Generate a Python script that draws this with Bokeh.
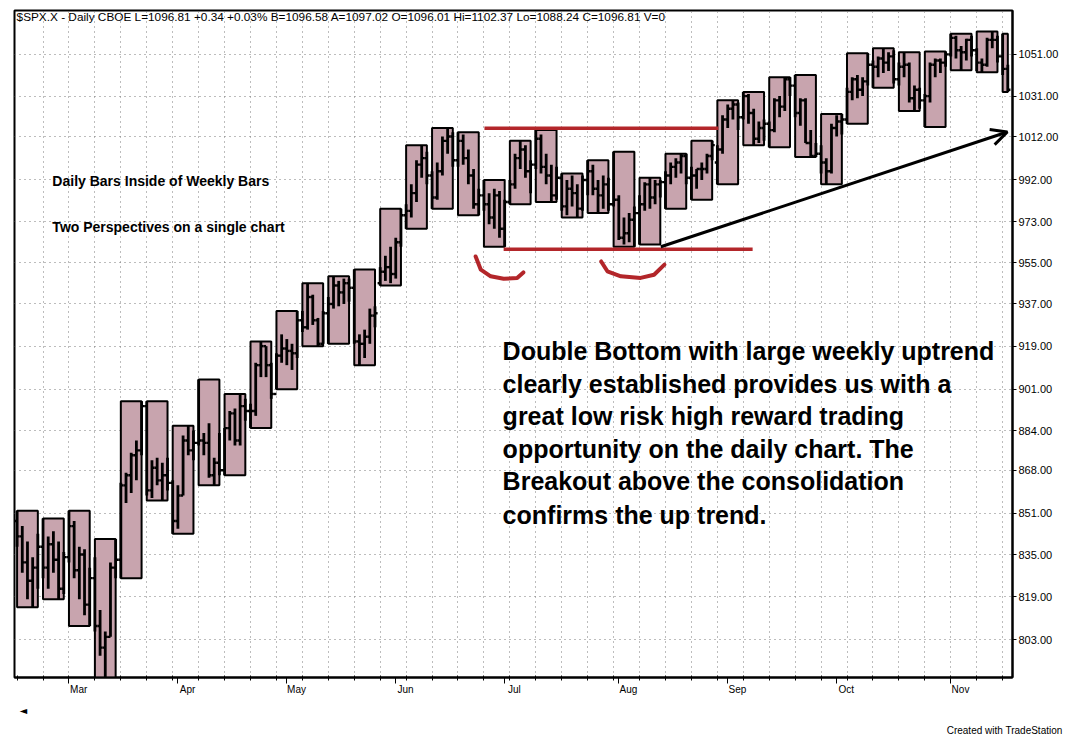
from bokeh.plotting import figure
from bokeh.models import (Range1d, FixedTicker, NumeralTickFormatter, Label, Arrow, OpenHead, Title)
from bokeh.embed import file_html
from bokeh.resources import INLINE

FONT = "Liberation Sans"

# ---------------- data (daily bars, 5 trading days per week) ----------------
d_open = [
    848, 842, 832, 825, 830,   838, 830, 839, 833, 822,   834, 846, 829, 835, 816,
    826, 808, 800, 804, 830,   833, 862, 866, 874, 876,   894, 860, 869, 864, 866,
    863, 848, 858, 880, 876,   879, 880, 879, 866, 871,   868, 885, 891, 880, 894,
    892, 892, 911, 919, 911,   899, 915, 918, 917, 916,   930, 927, 940, 930, 920,
    933, 937, 945, 942, 946,   944, 921, 920, 923, 932,   946, 951, 953, 950, 964,
    976, 978, 986, 999, 1002,  994, 984, 996, 1010, 1012, 1001, 1010, 1002, 994, 981,
    985, 981, 975, 985, 970,   982, 990, 1002, 1006, 996,  999, 1011, 998, 994, 985,
    993, 980, 988, 986, 979,   992, 996, 988, 985, 990,   981, 983, 966, 968, 974,
    977, 981, 990, 984, 990,   991, 994, 998, 1000, 1003, 993, 994, 997, 997, 1003,
    1000, 1006, 1020, 1025, 1027, 1021, 1031, 1023, 1011, 1016, 1018, 1015, 1029, 1026, 1039,
    1036, 1023, 1029, 1009, 1003, 1004, 1000, 996, 1016, 1019, 1020, 1033, 1039, 1034, 1038,
    1046, 1045, 1049, 1047, 1050, 1039, 1045, 1046, 1030, 1034, 1029, 1031, 1046, 1048, 1047,
    1051, 1059, 1053, 1052, 1058, 1053, 1047, 1046, 1058, 1058, 1050, 1044,
]
d_high = [
    852, 846, 840, 834, 843,   849, 842, 844, 840, 836,   852, 848, 838, 837, 830,
    834, 814, 806, 832, 841,   863, 867, 875, 880, 896,   896, 872, 873, 871, 873,
    864, 862, 882, 886, 884,   905, 883, 887, 873, 883,   885, 892, 893, 899, 897,
    895, 912, 921, 919, 912,   916, 924, 922, 920, 934,   934, 946, 941, 931, 934,
    940, 949, 947, 948, 948,   952, 924, 926, 935, 936,   953, 958, 962, 966, 979,
    981, 990, 1001, 1008, 1005, 996, 1000, 1012, 1016, 1014, 1014, 1013, 1006, 997, 988,
    992, 986, 988, 987, 983,   992, 1004, 1010, 1008, 1001, 1015, 1013, 1004, 999, 998,
    995, 992, 994, 990, 994,   1001, 999, 992, 994, 993,  1005, 985, 975, 977, 980,
    985, 991, 993, 992, 992,   996, 1000, 1002, 1004, 1004, 998, 997, 1000, 1004, 1010,
    1008, 1022, 1027, 1029, 1028, 1033, 1032, 1025, 1019, 1020, 1019, 1030, 1031, 1040, 1040,
    1041, 1030, 1030, 1015, 1009, 1008, 1002, 1018, 1022, 1022.5, 1035, 1040, 1041, 1040, 1051.5,
    1048, 1050, 1054, 1052, 1053, 1047, 1052, 1047, 1036, 1035, 1032, 1047, 1049, 1049, 1052.4,
    1061, 1060, 1055, 1058.5, 1060, 1054, 1049, 1059, 1062.1, 1060, 1061, 1046,
]
d_low = [
    838, 828, 818, 815, 822,   826, 822, 828, 818, 820,   832, 826, 818, 812, 808,
    806, 797, 789, 804, 826,   826, 855, 859, 864, 874,   858, 857, 862, 856, 860,
    843, 845, 858, 874, 872,   878, 874, 865, 862, 866,   866, 880, 878, 878, 888,
    885, 890, 906, 906, 897,   901, 912, 911, 909, 914,   925, 926, 928, 919, 920,
    920, 935, 936, 937, 938,   920, 911, 914, 920, 927,   945, 947, 946, 948, 962,
    970, 975, 982, 993, 990,   979, 983, 994, 1004, 998,  998, 999, 990, 979, 976,
    978, 972, 970, 966, 962,   981, 988, 997, 993, 986,   997, 995, 990, 982, 983,
    978, 976, 980, 975, 978,   985, 985, 977, 979, 978,   980, 965, 963, 964, 962,
    963, 978, 979, 981, 984,   979, 990, 993, 995, 990,   983, 988, 992, 995, 1001,
    990, 1004, 1016, 1020, 1015, 1020, 1018, 1008, 1009, 1010, 1007, 1014, 1021, 1024, 1031,
    1021, 1017, 1009, 1003, 1002.5, 995, 990, 995, 1012, 1013, 1018, 1029, 1030, 1031, 1036,
    1035, 1040, 1042, 1043, 1037, 1036, 1040, 1028, 1024, 1025, 1016.4, 1028, 1040, 1042, 1045,
    1050, 1049, 1043.3, 1048, 1050, 1043, 1042.4, 1045, 1054, 1047, 1041, 1033,
]
d_close = [
    842, 832, 825, 830, 838,   830, 839, 833, 822, 834,   846, 829, 835, 816, 826,
    808, 800, 804, 830, 833,   862, 866, 874, 876, 894,   860, 869, 864, 866, 863,
    848, 858, 880, 876, 879,   880, 879, 866, 871, 868,   885, 891, 880, 894, 892,
    892, 911, 919, 911, 899,   915, 918, 917, 916, 930,   927, 940, 930, 920, 933,
    937, 945, 942, 946, 944,   921, 920, 923, 932, 933,   951, 953, 950, 964, 976,
    978, 986, 999, 1002, 994,  984, 996, 1010, 1012, 1001, 1010, 1002, 994, 981, 985,
    981, 975, 985, 970, 982,   990, 1002, 1006, 996, 999,  1011, 998, 994, 985, 993,
    980, 988, 986, 979, 992,   996, 988, 985, 990, 981,   983, 966, 968, 974, 977,
    981, 990, 984, 990, 991,   994, 998, 1000, 1003, 993, 994, 997, 997, 1003, 1008,
    1006, 1020, 1025, 1027, 1021, 1031, 1023, 1011, 1016, 1018, 1015, 1029, 1026, 1039, 1036,
    1023, 1029, 1009, 1003, 1004, 1000, 996, 1016, 1019, 1020, 1033, 1039, 1034, 1038, 1046,
    1045, 1049, 1047, 1050, 1039, 1045, 1046, 1030, 1034, 1029, 1031, 1046, 1048, 1047, 1051,
    1059, 1053, 1052, 1058, 1053, 1047, 1046, 1058, 1058, 1050, 1044, 1034,
]

price_ticks = [803, 819, 835, 851, 868, 884, 901, 919, 937, 955, 973, 992, 1012, 1031, 1051]
month_names = ["Mar", "Apr", "May", "Jun", "Jul", "Aug", "Sep", "Oct", "Nov"]
month_pos = [10, 31, 52, 73, 94, 116, 137, 158, 180]

header_text = ("$SPX.X - Daily  CBOE L=1096.81 +0.34 +0.03% B=1096.58 A=1097.02 "
               "O=1096.01 Hi=1102.37 Lo=1088.24 C=1096.81 V=0")
credit_text = "Created with TradeStation"
note_left = ["Daily Bars Inside of Weekly Bars", "Two Perspectives on a single chart"]
note_left_y = [991.5, 970.9]
note_big = ["Double Bottom with large weekly uptrend",
            "clearly established provides us with a",
            "great low risk high reward trading",
            "opportunity on the daily chart. The",
            "Breakout above the consolidation",
            "confirms the up trend."]
note_big_y = [916.8, 903.0, 889.9, 876.5, 863.7, 850.4]

# hand-drawn annotations, in (trading-day index, price)
resist_x, resist_y = [90.1, 135.2], [1015.9, 1015.9]
support_x, support_y = [93.8, 141.8], [960.9, 960.9]
arc1_x = [88.4, 89.4, 91.3, 93.8, 96.4, 97.6]
arc1_y = [957.7, 951.9, 949.0, 947.9, 948.3, 950.7]
arc2_x = [112.6, 113.8, 116.4, 120.2, 122.8, 124.8]
arc2_y = [955.5, 951.2, 949.0, 948.3, 949.7, 954.1]
arrow_x, arrow_y = [124.1, 190.9], [962.0, 1014.1]

# ---------------- weekly boxes from the daily bars ----------------
n = len(d_open)
idx = list(range(n))
wl, wr, wt, wb = [], [], [], []
for s in range(0, n, 5):
    e = min(s + 5, n)
    wl.append(s)
    wr.append(e - 1)
    wt.append(max(d_high[s:e]))
    wb.append(min(d_low[s:e]))

RED = "#b3262a"
BOX = "#c8a4ae"
NB = "\u00a0"

p = figure(width=1073, height=738, y_axis_type="log",
           x_range=Range1d(-0.5, 191.9), y_range=Range1d(789.1, 1072.4),
           y_axis_location="right", output_backend="svg", toolbar_location=None,
           min_border_left=14, min_border_right=61, min_border_top=10, min_border_bottom=59)
p.background_fill_color = "white"
p.border_fill_color = "white"
p.outline_line_color = "black"
p.outline_line_width = 2

yax = p.yaxis[0]
yax.ticker = FixedTicker(ticks=price_ticks, minor_ticks=[])
yax.formatter = NumeralTickFormatter(format="0.00")
yax.axis_line_width = 2
yax.axis_line_color = "black"
yax.major_tick_out = 4
yax.major_tick_in = 0
yax.major_tick_line_color = "black"
yax.minor_tick_out = 0
yax.minor_tick_in = 0
yax.major_label_standoff = 2
yax.major_label_text_font = FONT
yax.major_label_text_font_size = "11px"
yax.major_label_text_color = "black"

xax = p.xaxis[0]
xax.ticker = FixedTicker(ticks=month_pos, minor_ticks=list(range(0, n, 5)))
# month names start at their tick, as in TradeStation
xax.major_label_overrides = {m: NB * 7 + name for m, name in zip(month_pos, month_names)}
xax.major_label_text_font = FONT
xax.major_label_text_font_size = "10px"
xax.major_label_text_color = "black"
xax.major_label_standoff = 0
xax.axis_line_width = 2
xax.axis_line_color = "black"
xax.major_tick_out = 6
xax.major_tick_in = 0
xax.major_tick_line_color = "black"
xax.minor_tick_out = 3
xax.minor_tick_in = 2
xax.minor_tick_line_color = "black"

p.xgrid.ticker = FixedTicker(ticks=list(range(5, n, 5)))
p.ygrid.ticker = FixedTicker(ticks=price_ticks)
for g in (p.xgrid[0], p.ygrid[0]):
    g.grid_line_color = "#7a7a7a"
    g.grid_line_dash = "1 4"
    g.grid_line_width = 1

# weekly boxes
p.quad(left=wl, right=wr, top=wt, bottom=wb, fill_color=BOX, line_color="black", line_width=2)
# daily OHLC bars
p.segment(x0=idx, y0=d_low, x1=idx, y1=d_high, line_color="black", line_width=2.8)
p.segment(x0=[i - 0.5 for i in idx], y0=d_open, x1=idx, y1=d_open, line_color="black", line_width=2.4)
p.segment(x0=idx, y0=d_close, x1=[i + 0.5 for i in idx], y1=d_close, line_color="black", line_width=2.4)

# red consolidation lines and bottoms
p.line(resist_x, resist_y, line_color=RED, line_width=3.5)
p.line(support_x, support_y, line_color=RED, line_width=3.5)
for ax_, ay_ in ((arc1_x, arc1_y), (arc2_x, arc2_y)):
    p.line(ax_, ay_, line_color=RED, line_width=4, line_cap="round", line_join="round")

p.add_layout(Arrow(end=OpenHead(size=16, line_width=3, line_color="black"),
                   x_start=arrow_x[0], y_start=arrow_y[0], x_end=arrow_x[1], y_end=arrow_y[1],
                   line_width=3, line_color="black"))

# texts
p.add_layout(Label(x=-0.1, y=1069.0, text=header_text, text_font=FONT, text_font_size="11.8px",
                   text_baseline="middle", text_color="black"))
for t, yy in zip(note_left, note_left_y):
    p.add_layout(Label(x=6.8, y=yy, text=t, text_font=FONT, text_font_size="14px",
                       text_font_style="bold", text_baseline="middle", text_color="black"))
for t, yy in zip(note_big, note_big_y):
    p.add_layout(Label(x=93.6, y=yy, text=t, text_font=FONT, text_font_size="25px",
                       text_font_style="bold", text_baseline="middle", text_color="black"))

# scroll button and credit line under the axis
p.add_layout(Title(text="\u25c4", align="left", offset=5, standoff=10, text_font="DejaVu Sans",
                   text_font_size="10px", text_font_style="normal", text_color="black"), "below")
p.add_layout(Title(text=credit_text, align="right", offset=-50, standoff=5, text_font=FONT,
                   text_font_size="10px", text_font_style="normal", text_color="black"), "below")

open("out.html", "w").write(file_html(p, INLINE))
